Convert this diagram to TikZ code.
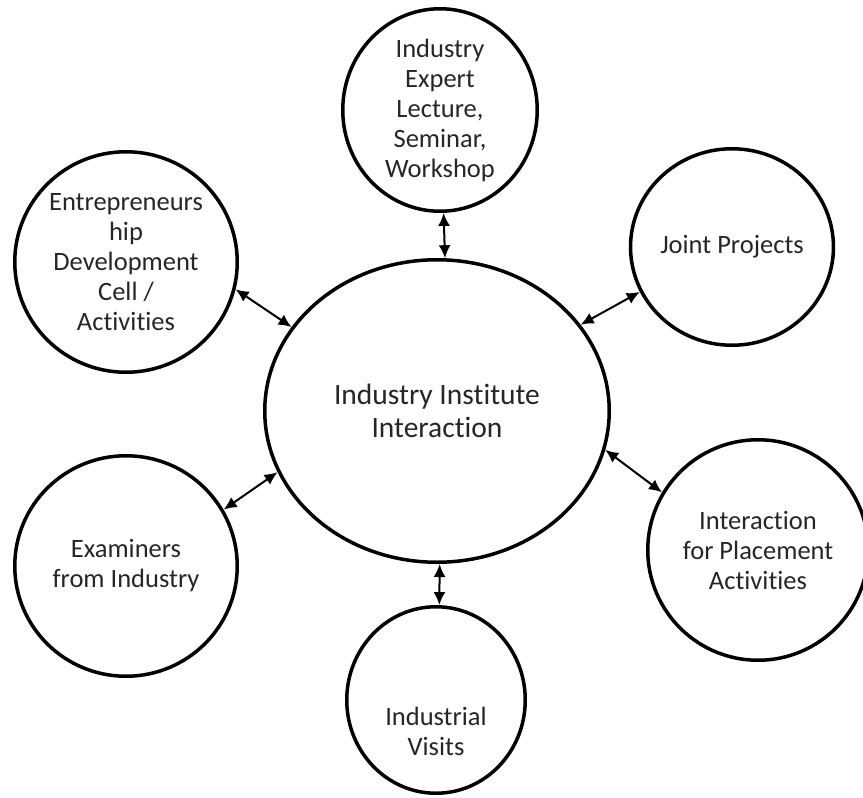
\documentclass[tikz,border=0pt]{standalone}
\usepackage{fontspec}
\setmainfont{Carlito}[Ligatures={NoCommon}]
\usetikzlibrary{shapes.geometric,arrows.meta}
\begin{document}
\begin{tikzpicture}[x=1pt,y=-1pt,
  bubble/.style={ellipse,draw=black,line width=3.5pt,inner sep=0pt,align=center,
    text=black!85,font=\fontsize{26.5}{30}\selectfont},
  link/.style={line width=2pt,{Latex[length=13pt,width=12pt]}-{Latex[length=13pt,width=12pt]}}]
\useasboundingbox (0,0) rectangle (863,798);
\node[bubble,minimum width=344.5pt,minimum height=302.5pt,font=\fontsize{29.5}{33}\selectfont] (c) at (437,411) {Industry Institute\\Interaction};
\node[bubble,minimum width=194.5pt,minimum height=202.5pt] (t) at (440,110) {Industry\\Expert\\Lecture,\\Seminar,\\Workshop};
\node[bubble,minimum width=222.5pt,minimum height=220.5pt] (tl) at (126,262) {Entrepreneurs\\hip\\Development\\Cell /\\Activities};
\node[bubble,minimum width=196.5pt,minimum height=196.5pt] (tr) at (732,247) {Joint Projects};
\node[bubble,minimum width=222.5pt,minimum height=220.5pt] (bl) at (126,566) {Examiners\\from Industry};
\node[bubble,minimum width=220.5pt,minimum height=220.5pt] (br) at (758,550) {Interaction\\for Placement\\Activities};
\node[bubble,minimum width=178.5pt,minimum height=186.5pt,
  label={[yshift=-31pt,text=black!85,font=\fontsize{26.5}{30}\selectfont,align=center]center:Industrial\\Visits}] (b) at (436,700) {};
\draw[link] (t.-88) -- (c.87.8);
\draw[link] (tl.-14.5) -- (c.150.9);
\draw[link] (tr.206.8) -- (c.31.3);
\draw[link] (bl.30.8) -- (c.201.2);
\draw[link] (br.149.3) -- (c.-13.5);
\draw[link] (b.88) -- (c.-89.3);
\end{tikzpicture}
\end{document}
